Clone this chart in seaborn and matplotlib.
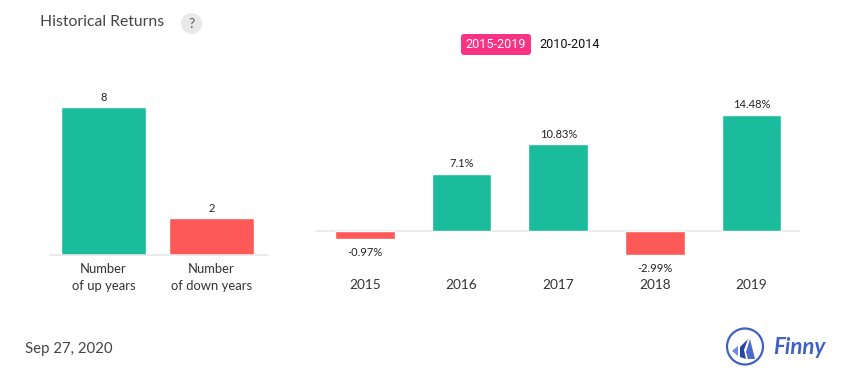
import matplotlib
matplotlib.use('Agg')
import matplotlib.pyplot as plt
import pandas as pd
import seaborn as sns
from matplotlib.patches import Circle, FancyBboxPatch, Polygon

count_labels = ['Number\nof up years', 'Number\nof down years']
count_values = [8, 2]
years = ['2015', '2016', '2017', '2018', '2019']
returns = [-0.97, 7.1, 10.83, -2.99, 14.48]
return_labels = ['-0.97%', '7.1%', '10.83%', '-2.99%', '14.48%']

GREEN = '#1abc9c'
RED = '#ff5858'
PINK = '#fb3384'
DARK = '#333333'
W, H = 855, 382

sns.set_theme(style='white')
plt.rcParams['font.family'] = ['Lato', 'DejaVu Sans']


def box(left, top, right, bottom):
    # pixel box from the top-left corner -> figure fractions
    return [left / W, 1 - bottom / H, (right - left) / W, (bottom - top) / H]


def style(ax):
    sns.despine(ax=ax, left=True, bottom=True, top=True, right=True)
    ax.set_xlabel('')
    ax.set_ylabel('')
    ax.set_yticks([])
    ax.tick_params(axis='x', length=0, labelsize=10, labelcolor=DARK)
    legend = ax.get_legend()
    if legend:
        legend.remove()


fig = plt.figure(figsize=(W / 100, H / 100), dpi=100)

# left panel
ax1 = fig.add_axes(box(49.5, 100, 265.5, 255))
df1 = pd.DataFrame({'label': count_labels, 'value': count_values})
sns.barplot(data=df1, x='label', y='value', hue='label', palette=[GREEN, RED],
            width=0.785, saturation=1, dodge=False, ax=ax1)
ax1.set_xlim(-0.5, 1.5)
ax1.set_ylim(0, 8.38)
style(ax1)
ax1.tick_params(axis='x', pad=6, labelsize=9.4)
for lab in ax1.get_xticklabels():
    lab.set_linespacing(1.45)
ax1.plot([-0.5, 1.51], [0, 0], color='#e6e6e6', lw=1.2, clip_on=False)
for i, v in enumerate(count_values):
    ax1.annotate(str(v), (i, v), xytext=(0, 2.8), textcoords='offset points',
                 ha='center', va='bottom', fontsize=8, color='#222222')

# right panel
ax2 = fig.add_axes(box(316.7, 100, 799.7, 272))
df2 = pd.DataFrame({'year': years, 'ret': returns})
colors = [GREEN if r > 0 else RED for r in returns]
sns.barplot(data=df2, x='year', y='ret', hue='year', palette=colors,
            width=0.615, saturation=1, dodge=False, ax=ax2)
ax2.set_xlim(-0.5, 4.5)
ax2.set_ylim(-5.1, 16.32)
style(ax2)
ax2.tick_params(axis='x', pad=5, labelsize=9.8)
ax2.plot([-0.5, 4.5], [0, 0], color='#e6e6e6', lw=1.2, zorder=0, clip_on=False)
for i, (r, t) in enumerate(zip(returns, return_labels)):
    offset = 3.3 if r > 0 else -6
    ax2.annotate(t, (i, r), xytext=(0, offset), textcoords='offset points',
                 ha='center', va='bottom' if r > 0 else 'top', fontsize=8,
                 color='#222222')

# header
overlay = fig.add_axes([0, 0, 1, 1], zorder=5)
overlay.set_xlim(0, W)
overlay.set_ylim(H, 0)
overlay.axis('off')
overlay.text(40, 22.5, 'Historical Returns', fontsize=11.3, color='#444444', va='center')
overlay.add_patch(Circle((191.5, 23.5), 10.5, fc='#e9e9e9', ec='none'))
overlay.text(191.5, 23.5, '?', fontsize=10, color='#555555', ha='center', va='center')
overlay.add_patch(FancyBboxPatch((461, 34), 70, 21, boxstyle='round,pad=0,rounding_size=3',
                                 fc=PINK, ec='none'))
overlay.text(496, 44.5, '2015-2019', fontsize=9.1, color='white', ha='center',
             va='center', family='Roboto')
overlay.text(570, 44.5, '2010-2014', fontsize=9.1, color='#111111', ha='center',
             va='center', family='Roboto')

# footer
overlay.text(25, 349, 'Sep 27, 2020', fontsize=10.8, color='#444444', va='center')
overlay.add_patch(Circle((745, 346.5), 18, fc='none', ec='#3f62c4', lw=1.6))
overlay.add_patch(Polygon([(732, 351), (738, 346), (738, 356)], fc='#6f8ad6', ec='none'))
overlay.add_patch(Polygon([(740, 357), (740, 347), (748, 339), (744, 350), (746, 359)],
                          fc='#2447a8', ec='none'))
overlay.add_patch(Polygon([(746, 352), (750, 339), (755, 359), (748, 359)], fc='#4a6bcb', ec='none'))
overlay.text(773, 348, 'Finny', fontsize=16, color='#3f62c4', style='italic',
             weight='bold', va='center', family='Lato')

fig.savefig('out.png', dpi=100)
